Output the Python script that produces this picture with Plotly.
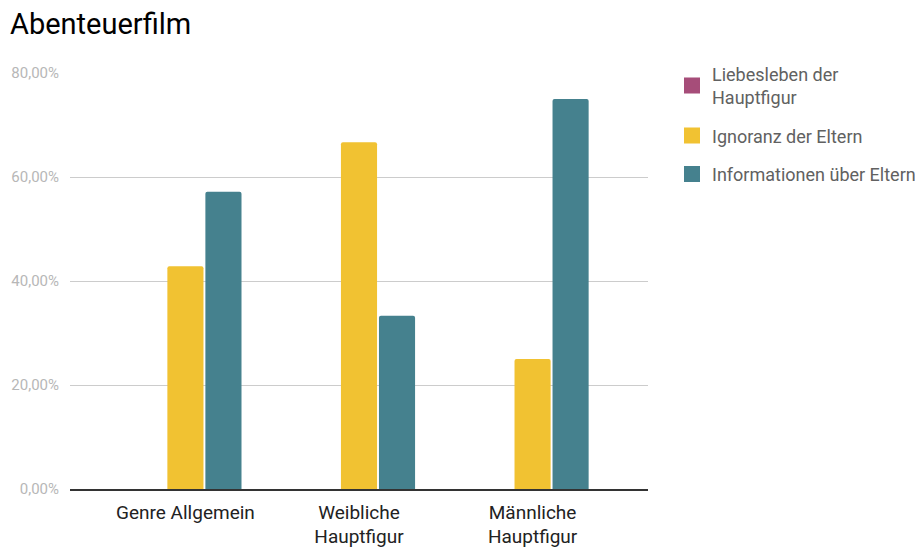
import plotly.graph_objects as go

categories = ["Genre Allgemein", "Weibliche<br>Hauptfigur", "Männliche<br>Hauptfigur"]
series_names = ["Liebesleben der<br>Hauptfigur", "Ignoranz der Eltern", "Informationen über Eltern"]
liebesleben = [0, 0, 0]
ignoranz = [42.86, 66.67, 25.0]
informationen = [57.14, 33.33, 75.0]
tick_vals = [0, 20, 40, 60, 80]
tick_text = [f"{v:.2f}".replace(".", ",") + "%" for v in tick_vals]
colors = ["#a64d79", "#f1c232", "#45818e"]

fig = go.Figure()
for name, vals, col in zip(series_names, [liebesleben, ignoranz, informationen], colors):
    fig.add_trace(go.Bar(x=categories, y=vals, name=name,
                         marker=dict(color=col, line_width=0, cornerradius=2),
                         showlegend=False))
for name, col in zip(series_names, colors):
    fig.add_trace(go.Scatter(x=[None], y=[None], mode="markers", name=name,
                             marker=dict(symbol="square", size=16, color=col),
                             legendgroup=name))

W, H = 915, 547
ML, MR, MT, MB = 70, 0, 73, 58
paper_w = W - ML - MR
plot_right = 648

fig.update_layout(
    width=W, height=H,
    margin=dict(l=ML, r=MR, t=MT, b=MB, autoexpand=False),
    paper_bgcolor="white", plot_bgcolor="white",
    font=dict(family="Roboto", color="#222222"),
    barmode="group", bargap=0.343, bargroupgap=0.05,
    separators=",.",
    title=dict(text="Abenteuerfilm", x=10/W, xanchor="left", xref="container",
               y=1 - 14/H, yanchor="top", yref="container",
               font=dict(family="Roboto", size=29, color="#000000")),
    legend=dict(x=(672 - ML)/paper_w, xanchor="left", y=1.042, yanchor="top",
                font=dict(family="Roboto", size=18, color="#616161"),
                tracegroupgap=12, bgcolor="rgba(0,0,0,0)"),
    xaxis=dict(type="category", domain=[0, (plot_right - ML)/paper_w],
               range=[-0.665, 2.665], showgrid=False,
               showline=True, linecolor="#333333", linewidth=1.5,
               tickfont=dict(family="Roboto", size=19, color="#222222"),
               ticks="", ticklabelstandoff=5, fixedrange=True),
    yaxis=dict(range=[0, 80], tickvals=tick_vals, ticktext=tick_text,
               showgrid=True, gridcolor="#cccccc", gridwidth=1, zeroline=False,
               tickfont=dict(family="Roboto", size=15, color="#b7b7b7"),
               ticks="", ticklabelstandoff=10, fixedrange=True),
)

fig.write_html("out.html", config={"displayModeBar": False},
               post_script="document.body.style.margin='0';")
